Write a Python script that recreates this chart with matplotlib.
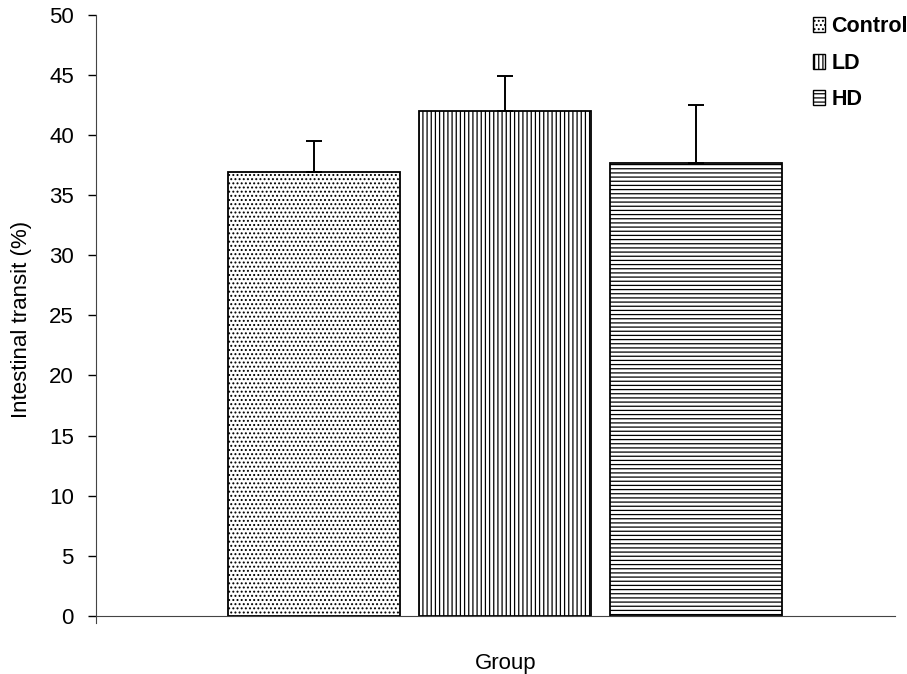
import numpy as np
import matplotlib.pyplot as plt
from matplotlib.patches import Patch

plt.rcParams['font.family'] = ['Liberation Sans', 'DejaVu Sans']
plt.rcParams['hatch.color'] = '#808080'
plt.rcParams['hatch.linewidth'] = 0.9

groups = ['Control', 'LD', 'HD']
means = [36.9, 42.0, 37.7]
errors = [2.6, 2.9, 4.8]
hatches = ['....', '||||', '----']
yticks = [0, 5, 10, 15, 20, 25, 30, 35, 40, 45, 50]

fig = plt.figure(figsize=(9.07, 6.74), dpi=100)
ax = fig.add_axes([0.106, 0.0757, 0.881, 0.902])

x = np.arange(len(groups))
bars = ax.bar(x, means, width=0.9, color='white', edgecolor='black',
              linewidth=1.3, hatch=hatches, zorder=2)
ax.errorbar(x, means, yerr=[np.zeros(len(errors)), errors], fmt='none',
            ecolor='black', elinewidth=1.4, capsize=6, capthick=1.4, zorder=3)

ax.set_xlim(-1.14, 3.04)
ax.set_ylim(-0.6, 50)
ax.set_yticks(yticks)
ax.tick_params(axis='y', direction='out', length=6, width=1, labelsize=16, pad=10)
ax.set_xticks([])
ax.spines['top'].set_visible(False)
ax.spines['right'].set_visible(False)
ax.spines['bottom'].set_position(('data', 0))
ax.spines['left'].set_color('#444444')
ax.spines['bottom'].set_color('#444444')

ax.set_ylabel('Intestinal transit (%)', fontsize=16, labelpad=12)
fig.text(0.557, 0.0, 'Group', fontsize=16, ha='center', va='bottom')

handles = [Patch(facecolor='white', edgecolor='black', hatch=h, label=g)
           for h, g in zip(hatches, groups)]
leg = ax.legend(handles=handles, loc='upper right', bbox_to_anchor=(1.04, 1.03),
                frameon=False, handlelength=0.55, handleheight=0.7,
                handletextpad=0.3, labelspacing=0.72,
                prop={'size': 15.5, 'weight': 'bold'})

fig.savefig('out.png', dpi=100)
